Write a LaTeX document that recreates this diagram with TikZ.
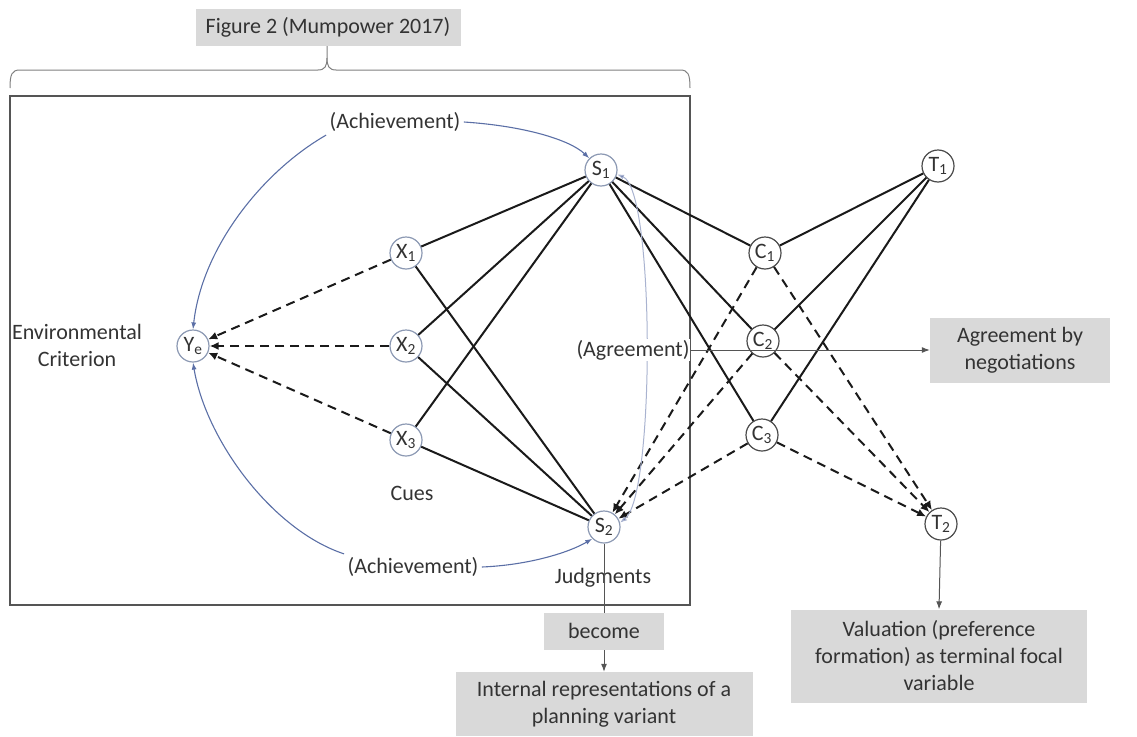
\documentclass[tikz,border=0pt]{standalone}
\usepackage{fontspec}
\setmainfont{Carlito}
\usetikzlibrary{arrows.meta}
\definecolor{txt}{HTML}{333333}
\definecolor{boxgray}{HTML}{D9D9D9}
\definecolor{circblue}{HTML}{8C99B3}
\definecolor{circdark}{HTML}{4A4A4A}
\definecolor{lineblk}{HTML}{1A1A1A}
\definecolor{arrblue}{HTML}{5B6FA6}
\definecolor{lightblue}{HTML}{A9B3D0}
\definecolor{framegray}{HTML}{555555}
\begin{document}
\begin{tikzpicture}[x=1pt,y=-1pt,
  every node/.style={text=txt},
  lbl/.style={font=\fontsize{22}{27}\selectfont, align=center},
  gbox/.style={fill=boxgray, font=\fontsize{22}{27}\selectfont, align=center, inner sep=0pt},
  vn/.style={circle, draw=circblue, line width=1.2pt, minimum size=32pt, inner sep=0pt, fill=white, font=\fontsize{22}{22}\selectfont},
  cn/.style={vn, draw=circdark},
  sol/.style={draw=lineblk, line width=2pt},
  dsh/.style={draw=lineblk, line width=2pt, dash pattern=on 9pt off 6pt},
  tip/.style={-{Latex[length=9pt,width=8pt]}},
  bl/.style={draw=arrblue, line width=1.1pt, -{Latex[length=7pt,width=5pt]}},
  garr/.style={draw=framegray, line width=1pt, -{Latex[length=8pt,width=6pt]}}
]
\useasboundingbox (0,0) rectangle (1137,736);

% frame and brace
\draw[draw=framegray, line width=2pt] (10,96) rectangle (690,605);
\draw[draw=gray, line width=1pt] (10,88) .. controls (10,74) and (12,70) .. (20,70) -- (318,70) .. controls (325,70) and (327,66) .. (327,58) -- (327,46);
\draw[draw=gray, line width=1pt] (327,58) .. controls (327,66) and (329,70) .. (336,70) -- (680,70) .. controls (688,70) and (690,74) .. (690,88);

\node[gbox, minimum width=265pt, minimum height=37pt] (fig) at (328,27) {Figure 2 (Mumpower 2017)};

% nodes
\node[vn] (Ye) at (193,346) {Y\textsubscript{e}};
\node[vn] (X1) at (406,253) {X\textsubscript{1}};
\node[vn] (X2) at (406,346) {X\textsubscript{2}};
\node[vn] (X3) at (406,440) {X\textsubscript{3}};
\node[vn] (S1) at (601,170) {S\textsubscript{1}};
\node[vn] (S2) at (604,527) {S\textsubscript{2}};
\node[cn] (C1) at (765,253) {C\textsubscript{1}};
\node[cn] (C2) at (763,341) {C\textsubscript{2}};
\node[cn] (C3) at (762,435) {C\textsubscript{3}};
\node[cn] (T1) at (938,166) {T\textsubscript{1}};
\node[cn] (T2) at (941,524) {T\textsubscript{2}};

% text labels
\node[lbl] (env) at (77,345) {Environmental\\Criterion};
\node[lbl] (cues) at (412,493) {Cues};
\node[lbl] (judg) at (603,578) {Judgments};
\node[lbl] (ach1) at (395,122) {(Achievement)};
\node[lbl] (ach2) at (413,567) {(Achievement)};

% solid edges
\foreach \x in {X1,X2,X3} {
  \draw[sol] (\x) -- (S1);
  \draw[sol] (\x) -- (S2);
}
\foreach \c in {C1,C2,C3} {
  \draw[sol] (S1) -- (\c);
  \draw[sol] (\c) -- (T1);
}
% dashed edges
\foreach \x in {X1,X2,X3} {
  \draw[dsh, tip] (\x) -- (Ye);
}
\foreach \c in {C1,C2,C3} {
  \draw[dsh, tip] (\c) -- (S2);
  \draw[dsh, tip] (\c) -- (T2);
}

% blue arrows
\draw[bl] (ach1.east) .. controls (525,126) and (570,140) .. (S1.north west);
\draw[bl] (ach1.south west) .. controls (262,172) and (202,248) .. (Ye.north);
\draw[bl] (ach2.north west) .. controls (272,530) and (206,440) .. (Ye.south);
\draw[bl] (ach2.east) .. controls (530,565) and (570,552) .. (S2.south west);
\draw[draw=lightblue, line width=1pt, {Latex[length=7pt,width=5pt,fill=arrblue]}-{Latex[length=7pt,width=5pt,fill=arrblue]}] (S1.-15) .. controls (655,190) and (655,495) .. (S2.15);

% agreement
\node[lbl, fill=white, inner sep=1pt] (agr) at (633,350) {(Agreement)};
\node[gbox, minimum width=180pt, minimum height=65pt] (negot) at (1020,350) {Agreement by\\negotiations};
\draw[garr] (agr.east) -- (negot.west);

% valuation
\node[gbox, minimum width=296pt, minimum height=93pt] (val) at (939,656) {Valuation (preference\\formation) as terminal focal\\variable};
\draw[garr] (T2) -- (val.north);

% internal representations
\node[gbox, minimum width=297pt, minimum height=64pt] (intr) at (604,704) {Internal representations of a\\planning variant};
\draw[garr] (S2) -- (intr.north);
\node[gbox, minimum width=120pt, minimum height=37pt] (become) at (604,631) {become};
\end{tikzpicture}
\end{document}
